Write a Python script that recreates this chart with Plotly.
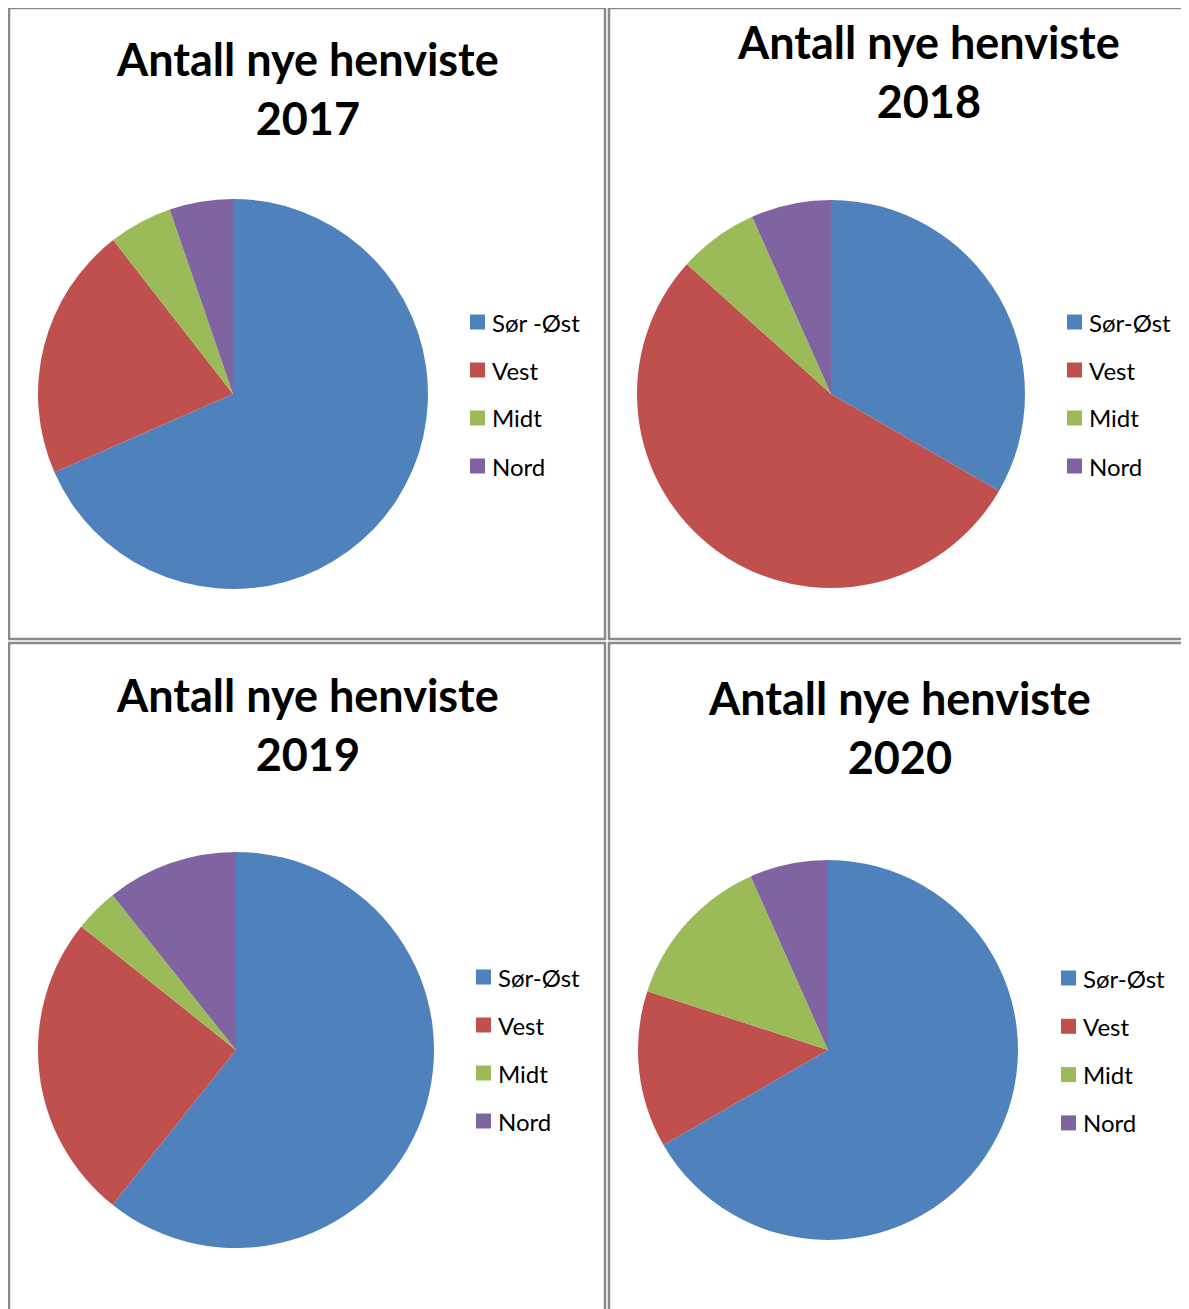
import plotly.graph_objects as go

# The page body has an 8px margin, so the figure starts at (8, 8) in the window.
OFF = 8
WIN_W, WIN_H = 1189, 1309
W, H = WIN_W - OFF, WIN_H - OFF

years = ["2017", "2018", "2019", "2020"]
labels_2017 = ["Sør -Øst", "Vest", "Midt", "Nord"]
labels_other = ["Sør-Øst", "Vest", "Midt", "Nord"]
values_2017 = [130, 40, 10, 10]
values_2018 = [50, 80, 10, 10]
values_2019 = [85, 35, 5, 15]
values_2020 = [100, 20, 20, 10]
title_text = "Antall nye henviste"

colors = ["#4F81BD", "#C0504D", "#9BBB59", "#8064A2"]
FONT = "Lato"

# layout specs (window pixel positions)
panels = [
    dict(labels=labels_2017, values=values_2017, year=years[0],
         cx=233, cy=394, r=195, tx=307, ty=88, lx=470, ly=322, dy=48,
         box=(9, 8, 605, 639)),
    dict(labels=labels_other, values=values_2018, year=years[1],
         cx=831, cy=394, r=194, tx=928, ty=71, lx=1067, ly=322, dy=48,
         box=(609, 8, 1195, 639)),
    dict(labels=labels_other, values=values_2019, year=years[2],
         cx=236, cy=1050, r=198, tx=307, ty=724, lx=476, ly=977, dy=48,
         box=(9, 643, 605, 1320)),
    dict(labels=labels_other, values=values_2020, year=years[3],
         cx=828, cy=1050, r=190, tx=899, ty=727, lx=1061, ly=978, dy=48.3,
         box=(609, 643, 1188, 1320)),
]

def px(x):
    return (x - OFF) / W

def py(y):
    return 1 - (y - OFF) / H

fig = go.Figure()
shapes = []
annotations = []
for p in panels:
    fig.add_trace(go.Pie(
        labels=p["labels"], values=p["values"],
        sort=False, direction="clockwise", rotation=0,
        marker=dict(colors=colors, line=dict(width=0)),
        textinfo="none", hoverinfo="label+value+percent",
        showlegend=False,
        domain=dict(x=[px(p["cx"] - p["r"]), px(p["cx"] + p["r"])],
                    y=[py(p["cy"] + p["r"]), py(p["cy"] - p["r"])]),
    ))
    x0, y0, x1, y1 = p["box"]
    shapes.append(dict(type="rect", xref="paper", yref="paper",
                       x0=px(x0), x1=px(x1), y0=py(y1), y1=py(y0),
                       line=dict(color="#8a8a8a", width=2.5), layer="above"))
    annotations.append(dict(
        text=f"<b>{title_text}<br>{p['year']}</b>", x=px(p["tx"]), y=py(p["ty"]),
        xref="paper", yref="paper", xanchor="center", yanchor="middle",
        showarrow=False, font=dict(family=FONT, size=45, color="#000000")))
    for i, lab in enumerate(p["labels"]):
        yc = p["ly"] + i * p["dy"]
        shapes.append(dict(type="rect", xref="paper", yref="paper",
                           x0=px(p["lx"]), x1=px(p["lx"] + 15),
                           y0=py(yc + 7.5), y1=py(yc - 7.5),
                           fillcolor=colors[i], line=dict(width=0)))
        annotations.append(dict(
            text=lab, x=px(p["lx"] + 20), y=py(yc),
            xref="paper", yref="paper", xanchor="left", yanchor="middle",
            showarrow=False, font=dict(family=FONT, size=24, color="#000000")))

fig.update_layout(
    width=W, height=H,
    margin=dict(l=0, r=0, t=0, b=0),
    paper_bgcolor="white", plot_bgcolor="white",
    shapes=shapes, annotations=annotations,
)

fig.write_html("out.html")
